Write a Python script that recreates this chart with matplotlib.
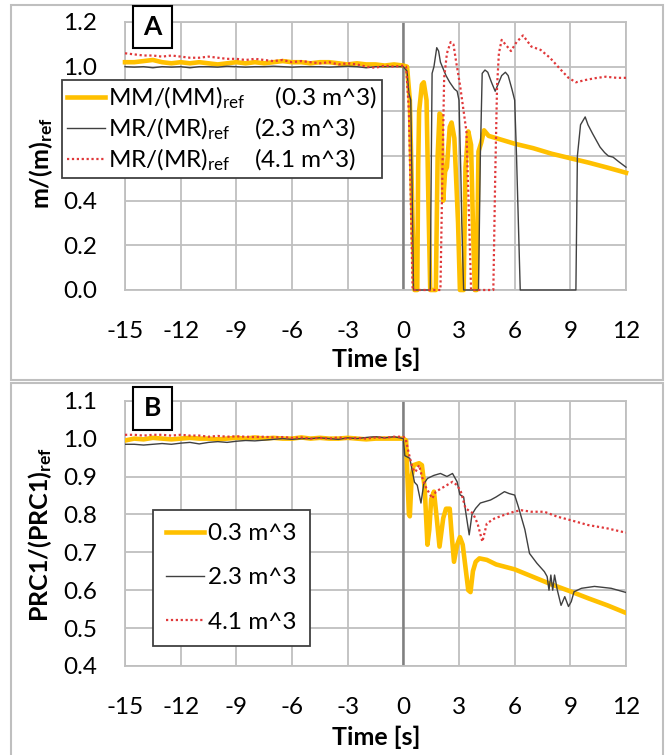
import matplotlib
matplotlib.use("Agg")
import matplotlib.pyplot as plt
from matplotlib.patches import Rectangle

plt.rcParams['font.family'] = ['Lato', 'DejaVu Sans']
plt.rcParams['mathtext.fontset'] = 'custom'
plt.rcParams['mathtext.rm'] = 'Lato'
plt.rcParams['mathtext.it'] = 'Lato:italic'
plt.rcParams['mathtext.bf'] = 'Lato:bold'
plt.rcParams['axes.unicode_minus'] = False

# ---------------- data ----------------
pre_t = [-15.0, -14.5, -14.0, -13.5, -13.0, -12.5, -12.0, -11.5, -11.0, -10.5,
         -10.0, -9.5, -9.0, -8.5, -8.0, -7.5, -7.0, -6.5, -6.0, -5.5,
         -5.0, -4.5, -4.0, -3.5, -3.0, -2.5, -2.0, -1.5, -1.0, -0.5]

# Panel A : m/(m)ref
a_mm_pre = [1.02, 1.02, 1.025, 1.03, 1.02, 1.015, 1.02, 1.015, 1.02, 1.015,
            1.01, 1.015, 1.02, 1.015, 1.02, 1.015, 1.02, 1.025, 1.02, 1.02,
            1.015, 1.02, 1.02, 1.015, 1.01, 1.015, 1.01, 1.01, 1.005, 1.01]
a_mm_t = [0.0, 0.2, 0.35, 0.5, 0.6, 0.75, 0.8, 0.85, 1.0, 1.1, 1.25, 1.35, 1.45,
          1.75, 1.85, 1.95, 2.05, 2.15, 2.25, 2.35, 2.5, 2.6, 2.75, 2.95, 3.05,
          3.25, 3.35, 3.5, 3.65, 3.75, 3.85, 3.95, 4.05, 4.2, 4.35, 4.6, 5.0,
          6.0, 7.0, 8.0, 9.0, 10.0, 11.0, 12.0]
a_mm_v = [1.005, 1.0, 0.85, 0.3, 0.0, 0.0, 0.55, 0.8, 0.92, 0.93, 0.85, 0.4, 0.0,
          0.0, 0.6, 0.79, 0.78, 0.4, 0.53, 0.55, 0.73, 0.75, 0.68, 0.3, 0.0,
          0.0, 0.55, 0.71, 0.65, 0.3, 0.0, 0.0, 0.62, 0.66, 0.715, 0.69, 0.68,
          0.655, 0.635, 0.61, 0.59, 0.57, 0.548, 0.525]

a_mr2_pre = [1.0, 0.998, 1.0, 0.995, 1.0, 0.998, 1.0, 0.995, 1.0, 1.0,
             0.998, 1.002, 1.0, 0.998, 1.0, 1.0, 1.002, 1.0, 0.998, 1.0,
             1.0, 1.0, 0.998, 1.0, 1.002, 1.0, 0.995, 1.0, 1.0, 1.0]
a_mr2_t = [0.0, 0.2, 0.3, 0.4, 0.5, 0.55, 1.45, 1.5, 1.55, 1.65, 1.8, 1.9, 2.0,
           2.1, 2.3, 2.5, 2.75, 2.9, 3.0, 3.1, 3.15, 3.25, 4.05, 4.15, 4.25,
           4.4, 4.55, 4.75, 4.95, 5.1, 5.3, 5.5, 5.65, 5.85, 6.0, 6.1, 6.3,
           9.3, 9.38, 9.55, 9.8, 9.95, 10.2, 10.4, 10.6, 10.85, 11.05, 11.3,
           11.6, 12.0]
a_mr2_v = [1.0, 0.98, 0.88, 0.85, 0.3, 0.0, 0.0, 0.5, 0.97, 1.0, 1.085, 1.07, 1.02,
           1.0, 0.96, 0.93, 0.9, 0.89, 0.85, 0.52, 0.3, 0.0, 0.0, 0.6, 0.97,
           0.985, 0.975, 0.93, 0.89, 0.92, 0.96, 0.975, 0.96, 0.9, 0.85, 0.6, 0.0,
           0.0, 0.6, 0.74, 0.775, 0.74, 0.7, 0.67, 0.64, 0.615, 0.6, 0.595,
           0.575, 0.55]

a_mr4_pre = [1.06, 1.055, 1.05, 1.05, 1.045, 1.05, 1.045, 1.04, 1.04, 1.045,
             1.04, 1.035, 1.035, 1.03, 1.035, 1.03, 1.025, 1.03, 1.02, 1.025,
             1.02, 1.015, 1.02, 1.01, 1.015, 1.01, 1.0, 0.995, 1.005, 1.0]
a_mr4_t = [0.0, 0.15, 0.3, 0.4, 0.5, 2.0, 2.1, 2.2, 2.35, 2.55, 2.7, 2.85, 3.05,
           3.25, 3.4, 3.55, 3.65, 4.85, 4.95, 5.05, 5.15, 5.3, 5.6, 5.8, 6.1,
           6.45, 6.9, 7.4, 7.9, 8.5, 8.9, 9.3, 9.8, 10.3, 10.9, 11.5, 12.0]
a_mr4_v = [1.005, 1.0, 0.8, 0.4, 0.0, 0.0, 0.5, 0.95, 1.06, 1.11, 1.1, 1.02, 0.92,
           0.8, 0.71, 0.3, 0.0, 0.0, 0.5, 0.91, 1.06, 1.12, 1.09, 1.07, 1.11,
           1.14, 1.09, 1.075, 1.04, 0.985, 0.95, 0.93, 0.94, 0.948, 0.955, 0.95, 0.95]

# Panel B : PRC1/(PRC1)ref
b_03_pre = [0.995, 1.0, 0.998, 1.002, 1.0, 0.998, 1.0, 1.002, 1.0, 1.0,
            0.998, 1.0, 1.002, 1.0, 1.003, 1.0, 1.002, 1.0, 1.0, 1.003,
            1.0, 1.002, 1.0, 1.0, 1.002, 1.0, 0.998, 1.0, 1.0, 1.0]
b_03_t = [0.0, 0.15, 0.22, 0.3, 0.35, 0.45, 0.55, 0.85, 1.0, 1.15, 1.3, 1.4, 1.5,
          1.65, 1.8, 1.95, 2.15, 2.3, 2.5, 2.6, 2.73, 2.9, 3.05, 3.2, 3.35, 3.5,
          3.62, 3.75, 3.9, 4.1, 4.5, 5.0, 6.0, 7.0, 8.0, 9.0, 10.0, 11.0, 12.0]
b_03_v = [1.0, 0.995, 0.9, 0.8, 0.795, 0.9, 0.93, 0.935, 0.93, 0.87, 0.72, 0.76, 0.84,
          0.86, 0.79, 0.715, 0.79, 0.815, 0.815, 0.75, 0.675, 0.72, 0.74, 0.72, 0.66, 0.6,
          0.595, 0.65, 0.675, 0.684, 0.68, 0.668, 0.655, 0.635, 0.615, 0.597, 0.578, 0.56, 0.54]

b_23_pre = [0.985, 0.985, 0.983, 0.985, 0.987, 0.985, 0.988, 0.99, 0.986, 0.99,
            0.992, 0.99, 0.993, 0.995, 0.994, 0.996, 0.998, 1.0, 0.998, 1.0,
            1.0, 1.002, 1.0, 0.998, 1.002, 1.0, 1.003, 1.005, 1.002, 1.005]
b_23_t = [0.0, 0.08, 0.35, 0.6, 0.75, 0.95, 1.1, 1.3, 1.65, 2.0, 2.35, 2.65, 2.9,
          3.05, 3.25, 3.35, 3.55, 3.7, 3.9, 4.15, 4.7, 5.0, 5.45, 5.7, 6.0, 6.2,
          6.55, 6.8, 7.2, 7.6, 7.75, 7.85, 7.95, 8.05, 8.15, 8.3, 8.5, 8.7, 8.9,
          9.05, 9.2, 9.6, 10.3, 11.2, 12.0]
b_23_v = [1.0, 0.955, 0.948, 0.885, 0.877, 0.83, 0.88, 0.895, 0.903, 0.908, 0.9, 0.908, 0.886,
          0.852, 0.846, 0.81, 0.746, 0.8, 0.816, 0.83, 0.838, 0.846, 0.86, 0.855, 0.851, 0.82,
          0.76, 0.697, 0.671, 0.649, 0.636, 0.6, 0.64, 0.6, 0.64, 0.6, 0.56, 0.583, 0.557,
          0.57, 0.596, 0.605, 0.61, 0.605, 0.594]

b_41_pre = [1.01, 1.01, 1.008, 1.01, 1.01, 1.008, 1.01, 1.008, 1.008, 1.005,
            1.007, 1.005, 1.006, 1.005, 1.004, 1.005, 1.003, 1.004, 1.002, 1.003,
            1.0, 1.002, 1.0, 1.003, 1.0, 1.002, 1.0, 1.003, 1.002, 1.005]
b_41_t = [0.0, 0.12, 0.3, 0.5, 0.65, 0.85, 1.0, 1.2, 1.56, 1.75, 2.2, 2.65, 2.9,
          3.1, 3.35, 3.75, 4.0, 4.26, 4.5, 4.9, 5.4, 5.95, 6.35, 6.9, 7.6, 8.3,
          9.0, 9.95, 11.0, 11.8, 12.0]
b_41_v = [1.005, 1.0, 0.96, 0.921, 0.912, 0.93, 0.9, 0.873, 0.842, 0.86, 0.873, 0.886, 0.877,
          0.86, 0.816, 0.803, 0.776, 0.728, 0.776, 0.789, 0.798, 0.807, 0.811, 0.807, 0.807, 0.794,
          0.785, 0.772, 0.763, 0.754, 0.752]

x_ticks = [-15, -12, -9, -6, -3, 0, 3, 6, 9, 12]
a_yticks = [0.0, 0.2, 0.4, 0.6, 0.8, 1.0, 1.2]
b_yticks = [0.4, 0.5, 0.6, 0.7, 0.8, 0.9, 1.0, 1.1]

a_labels = [r'MM/(MM)$_{\mathrm{ref}}$     (0.3 m^3)',
            r'MR/(MR)$_{\mathrm{ref}}$    (2.3 m^3)',
            r'MR/(MR)$_{\mathrm{ref}}$    (4.1 m^3)']
b_labels = ['0.3 m^3', '2.3 m^3', '4.1 m^3']

# ---------------- styling ----------------
W, H = 668, 755
fig = plt.figure(figsize=(W / 100, H / 100), dpi=100)

YEL = '#FFC000'
BLK = '#404040'
RED = '#E0383A'
GRID = '#BFBFBF'
FS = 17.5
TFS = 18

def fx(px):
    return px / W

def fy(py):
    return 1 - py / H

# outer frames
for (x0, y0, x1, y1) in [(11, 5, 663, 380), (11, 383, 663, 770)]:
    fig.patches.append(Rectangle((fx(x0), fy(y1)), fx(x1) - fx(x0), fy(y0) - fy(y1),
                                 transform=fig.transFigure, fill=False,
                                 edgecolor='#BFBFBF', lw=1.5, zorder=0))

axA = fig.add_axes([fx(125), fy(290), fx(626) - fx(125), fy(22) - fy(290)])
axB = fig.add_axes([fx(125), fy(666), fx(626) - fx(125), fy(400.7) - fy(666)])


def style(ax, yticks, ylim):
    ax.set_xlim(-15, 12)
    ax.set_ylim(*ylim)
    ax.set_xticks(x_ticks)
    ax.set_xticklabels([str(v) for v in x_ticks])
    ax.set_yticks(yticks)
    ax.set_yticklabels([f'{v:.1f}' for v in yticks])
    ax.grid(True, color=GRID, lw=1.3, zorder=0)
    ax.set_axisbelow(True)
    for s in ax.spines.values():
        s.set_color(GRID)
        s.set_linewidth(1.3)
    ax.tick_params(length=0, labelsize=FS, colors='#000000')
    ax.tick_params(axis='x', pad=22)
    ax.tick_params(axis='y', pad=20)
    ax.axvline(0, color='#808080', lw=1.8, zorder=1)


style(axA, a_yticks, (0, 1.2))
style(axB, b_yticks, (0.4, 1.1))


def series(pre, t, v):
    return pre_t + t, pre + v


lw_y, lw_k, lw_r = 3.3, 1.0, 1.6
dot = (0, (1, 1.2))

axA.plot(*series(a_mm_pre, a_mm_t, a_mm_v), color=YEL, lw=lw_y, label=a_labels[0],
         clip_on=False, zorder=3, solid_joinstyle='round')
axA.plot(*series(a_mr2_pre, a_mr2_t, a_mr2_v), color=BLK, lw=lw_k, label=a_labels[1],
         clip_on=False, zorder=4)
axA.plot(*series(a_mr4_pre, a_mr4_t, a_mr4_v), color=RED, lw=lw_r, ls=dot, label=a_labels[2],
         clip_on=False, zorder=5)

axB.plot(*series(b_03_pre, b_03_t, b_03_v), color=YEL, lw=lw_y, label=b_labels[0],
         zorder=3, solid_joinstyle='round')
axB.plot(*series(b_23_pre, b_23_t, b_23_v), color=BLK, lw=lw_k, label=b_labels[1], zorder=4)
axB.plot(*series(b_41_pre, b_41_t, b_41_v), color=RED, lw=lw_r, ls=dot, label=b_labels[2], zorder=5)

legA = fig.legend(*axA.get_legend_handles_labels(), loc='upper left',
                  bbox_to_anchor=(fx(62), fy(80)), bbox_transform=fig.transFigure,
                  fontsize=FS, frameon=True, fancybox=False, borderpad=0.2,
                  labelspacing=0.2, handlelength=1.55, handletextpad=0.15,
                  borderaxespad=0)
legA.get_frame().set_edgecolor('#404040')
legA.get_frame().set_linewidth(1.3)
legA.get_frame().set_alpha(1)

legB = fig.legend(*axB.get_legend_handles_labels(), loc='upper left',
                  bbox_to_anchor=(fx(153), fy(510)), bbox_transform=fig.transFigure,
                  fontsize=FS, frameon=True, fancybox=False, borderpad=0.55,
                  labelspacing=0.95, handlelength=1.55, handletextpad=0.15,
                  borderaxespad=0)
legB.get_frame().set_edgecolor('#404040')
legB.get_frame().set_linewidth(1.3)
legB.get_frame().set_alpha(1)

# axis titles
fig.text(fx(376), fy(359), 'Time [s]', ha='center', va='center', fontsize=TFS, fontweight='bold')
fig.text(fx(376), fy(737), 'Time [s]', ha='center', va='center', fontsize=TFS, fontweight='bold')
fig.text(fx(41), fy(163), r'm/(m)$_{\mathbf{ref}}$', ha='center', va='center', rotation=90,
         fontsize=TFS, fontweight='bold')
fig.text(fx(40), fy(535), r'PRC1/(PRC1)$_{\mathbf{ref}}$', ha='center', va='center', rotation=90,
         fontsize=TFS, fontweight='bold')

# panel letters
for letter, (x0, y0, x1, y1) in [('A', (133, 6, 172, 48)), ('B', (133, 387, 172, 430))]:
    fig.patches.append(Rectangle((fx(x0), fy(y1)), fx(x1) - fx(x0), fy(y0) - fy(y1),
                                 transform=fig.transFigure, facecolor='white',
                                 edgecolor='black', lw=1.5, zorder=10))
    fig.text(fx((x0 + x1) / 2), fy((y0 + y1) / 2), letter, ha='center', va='center',
             fontsize=19, fontweight='bold', zorder=11)

fig.savefig('out.png', dpi=100)
